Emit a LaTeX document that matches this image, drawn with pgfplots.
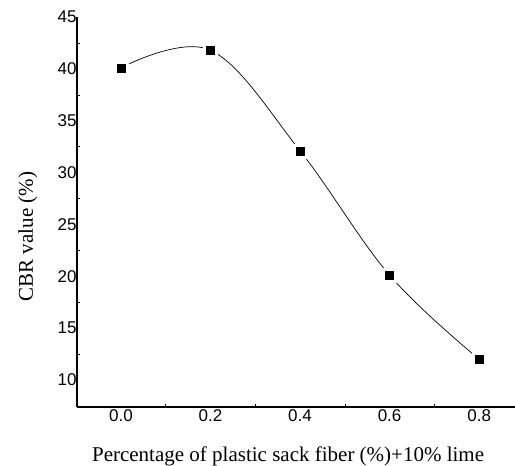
\documentclass[border=0pt]{standalone}
\usepackage{fontspec}
\setmainfont{Liberation Serif}
\newfontfamily\ticksans{Liberation Sans}
\usepackage{pgfplots}
\pgfplotsset{compat=1.18}

\pgfplotstableread{
x    cbr
0.0  40.1
0.2  41.8
0.4  32.1
0.6  20.1
0.8  12.0
}\cbrdata

\begin{document}
\begin{tikzpicture}
\begin{axis}[
  scale only axis,
  width=438bp,height=390bp,
  xmin=-0.098,xmax=0.88,
  ymin=7.4,ymax=45,
  axis x line*=bottom,axis y line*=left,
  axis line style={line width=1.1pt},
  xtick={0,0.2,...,0.8},
  ytick={10,15,...,45},
  xticklabel style={/pgf/number format/fixed,/pgf/number format/fixed zerofill,/pgf/number format/precision=1},
  minor tick num=1,
  major tick length=0pt,
  minor tick length=3bp,
  tick align=inside,
  tick style={black,line width=0.5pt},
  /pgf/number format/assume math mode=true,
  tick label style={font=\ticksans\fontsize{17bp}{18bp}\selectfont},
  yticklabel style={xshift=3bp},
  xticklabel style={yshift=1bp},
  xlabel={Percentage of plastic sack fiber (\%)+10\% lime},
  ylabel={CBR value (\%)},
  label style={font=\fontsize{21bp}{23bp}\selectfont},
  xlabel style={at={(axis description cs:0.482,-0.1385)},anchor=base},
  ylabel style={at={(axis description cs:-0.1005,0.437)},anchor=base},
]
% smooth curve
\addplot[black,line width=0.7pt,smooth,tension=0.6] table[x=x,y=cbr] {\cbrdata};
% white halo leaves a small gap between curve and markers
\addplot[only marks,mark=square*,mark size=7bp,mark options={draw=white,fill=white}] table[x=x,y=cbr] {\cbrdata};
\addplot[only marks,mark=square*,mark size=4bp,mark options={draw=black,fill=black}] table[x=x,y=cbr] {\cbrdata};
\end{axis}
\pgfresetboundingbox
\path (current axis.south west) ++(-77bp,-59bp) coordinate (bbsw);
\path (current axis.north east) ++(0bp,17bp) coordinate (bbne);
\path[use as bounding box] (bbsw) rectangle (bbne);
\end{tikzpicture}
\end{document}
